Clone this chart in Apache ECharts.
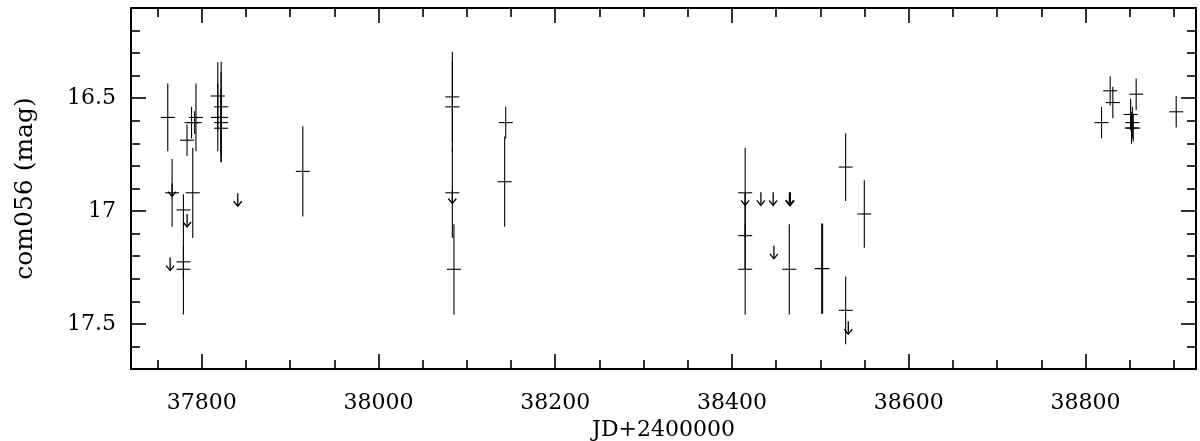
<!DOCTYPE html>
<html>
<head>
<meta charset="utf-8">
<script src="https://cdn.jsdelivr.net/npm/echarts@6/dist/echarts.min.js"></script>
<style>
  html, body { margin: 0; padding: 0; background: #fff; }
  #chart { width: 1200px; height: 441px; }
</style>
</head>
<body>
<div id="chart"></div>
<script>
// measurements with error bars: JD-2400000, magnitude, error
const jd = [37761.6, 37766.5, 37779.3, 37779.3, 37779.3, 37783.4, 37788.5, 37792, 37793.5, 37789.9,
            37818.2, 37822, 37818.2, 37822, 37822, 37822, 37914.4,
            38083.6, 38083.6, 38083.6, 38085.4, 38144, 38142.8,
            38414.9, 38414.9, 38414.9, 38464.8, 38501.5, 38502.5, 38528.6, 38528.6, 38549.7,
            38818.1, 38827.9, 38830.9, 38857.3, 38851, 38853, 38852, 38854, 38902.6];
const mag = [16.585, 16.919, 16.995, 17.225, 17.258, 16.686, 16.608, 16.608, 16.585, 16.919,
             16.49, 16.538, 16.585, 16.585, 16.608, 16.633, 16.824,
             16.494, 16.538, 16.919, 17.258, 16.608, 16.87,
             16.919, 17.109, 17.258, 17.258, 17.255, 17.255, 16.805, 17.44, 17.013,
             16.608, 16.467, 16.519, 16.482, 16.572, 16.608, 16.632, 16.632, 16.56];
const err = [0.15, 0.15, 0.07, 0.07, 0.2, 0.07, 0.07, 0.05, 0.15, 0.2,
             0.15, 0.2, 0.15, 0.2, 0.15, 0.15, 0.2,
             0.2, 0.2, 0.2, 0.2, 0.07, 0.2,
             0.2, 0.15, 0.2, 0.2, 0.2, 0.2, 0.15, 0.15, 0.15,
             0.07, 0.065, 0.07, 0.07, 0.07, 0.07, 0.07, 0.06, 0.07];

// upper limits (arrows), value = top of arrow
const limJd = [37766.5, 37764.3, 37783.5, 37840.8, 38083.6, 38414.9, 38432.7, 38446.6, 38465, 38466, 38447.4, 38531.6];
const limMag = [16.878, 17.206, 17.013, 16.921, 16.909, 16.917, 16.917, 16.917, 16.917, 16.917, 17.154, 17.488];

const xRange = [37720, 38925];
const yRange = [16.1, 17.7];
const xTitle = 'JD+2400000';
const yTitle = 'com056 (mag)';

const font = 'DejaVu Serif';
const bars = jd.map((d, i) => [d, mag[i], err[i]]);
const limits = limJd.map((d, i) => [d, limMag[i]]);

function renderBar(params, api) {
    const x = api.value(0), m = api.value(1), e = api.value(2);
    const top = api.coord([x, m - e]);
    const bot = api.coord([x, m + e]);
    const mid = api.coord([x, m]);
    const st = { stroke: '#000', lineWidth: 1.1 };
    return {
        type: 'group',
        children: [
            { type: 'line', shape: { x1: top[0], y1: top[1], x2: bot[0], y2: bot[1] }, style: st },
            { type: 'line', shape: { x1: mid[0] - 7, y1: mid[1], x2: mid[0] + 7, y2: mid[1] }, style: st }
        ]
    };
}

function renderArrow(params, api) {
    const p = api.coord([api.value(0), api.value(1)]);
    const st = { stroke: '#000', lineWidth: 1.3, fill: null };
    return {
        type: 'group',
        children: [
            { type: 'line', shape: { x1: p[0], y1: p[1], x2: p[0], y2: p[1] + 13 }, style: st },
            { type: 'polyline', shape: { points: [[p[0] - 4, p[1] + 8], [p[0], p[1] + 13], [p[0] + 4, p[1] + 8]] }, style: st }
        ]
    };
}

const axisLine = { show: true, onZero: false, lineStyle: { color: '#000', width: 2 } };
const tick = { show: true, inside: true, length: 15, lineStyle: { color: '#000', width: 1.6 } };
const minor = (n) => ({ show: true, splitNumber: n, length: 9, lineStyle: { color: '#000', width: 1.6 } });

const option = {
    animation: false,
    backgroundColor: '#fff',
    grid: { left: 131, right: 4, top: 8, bottom: 72, outerBoundsMode: 'none', containLabel: false },
    xAxis: [
        {
            type: 'value', position: 'bottom', min: xRange[0], max: xRange[1],
            minInterval: 200, maxInterval: 200,
            name: xTitle, nameLocation: 'middle', nameGap: 50,
            nameTextStyle: { fontFamily: font, fontSize: 22, color: '#000' },
            axisLine: axisLine, axisTick: tick, minorTick: minor(4),
            splitLine: { show: false },
            axisLabel: {
                fontFamily: font, fontSize: 22, color: '#000', margin: 23,
                showMinLabel: false, showMaxLabel: false,
                formatter: (v) => String(v)
            }
        },
        {
            type: 'value', position: 'top', min: xRange[0], max: xRange[1],
            minInterval: 200, maxInterval: 200,
            axisLine: axisLine, axisTick: tick, minorTick: minor(4),
            splitLine: { show: false }, axisLabel: { show: false }
        }
    ],
    yAxis: [
        {
            type: 'value', position: 'left', inverse: true, min: yRange[0], max: yRange[1],
            minInterval: 0.5, maxInterval: 0.5,
            name: yTitle, nameLocation: 'middle', nameGap: 93,
            nameTextStyle: { fontFamily: font, fontSize: 25, color: '#000' },
            axisLine: axisLine, axisTick: tick, minorTick: minor(5),
            splitLine: { show: false },
            axisLabel: {
                fontFamily: font, fontSize: 22, color: '#000', margin: 15,
                showMinLabel: false, showMaxLabel: false
            }
        },
        {
            type: 'value', position: 'right', inverse: true, min: yRange[0], max: yRange[1],
            minInterval: 0.5, maxInterval: 0.5,
            axisLine: axisLine, axisTick: tick, minorTick: minor(5),
            splitLine: { show: false }, axisLabel: { show: false }
        }
    ],
    series: [
        {
            type: 'custom', name: 'mag', xAxisIndex: 0, yAxisIndex: 0,
            renderItem: renderBar, encode: { x: 0, y: 1 }, data: bars, clip: true
        },
        {
            type: 'custom', name: 'limit', xAxisIndex: 0, yAxisIndex: 0,
            renderItem: renderArrow, encode: { x: 0, y: 1 }, data: limits, clip: true
        }
    ]
};

const chart = echarts.init(document.getElementById('chart'));
chart.setOption(option);
</script>
</body>
</html>
